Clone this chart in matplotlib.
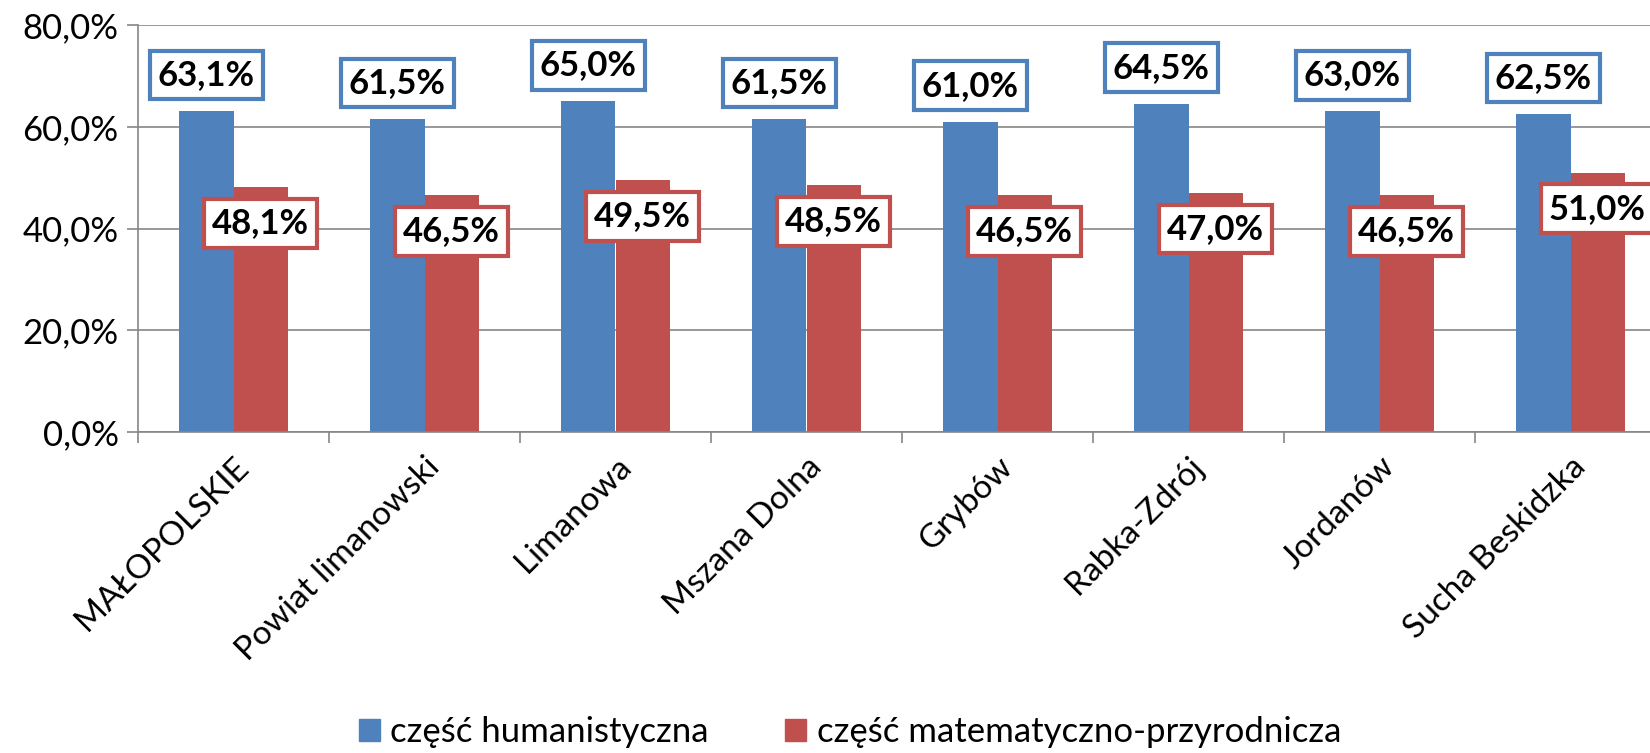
import numpy as np
import matplotlib
matplotlib.use("Agg")
import matplotlib.pyplot as plt
from matplotlib.patches import Patch
from matplotlib.ticker import FixedLocator, FuncFormatter

# Data
categories = ["MAŁOPOLSKIE", "Powiat limanowski", "Limanowa", "Mszana Dolna",
              "Grybów", "Rabka-Zdrój", "Jordanów", "Sucha Beskidzka"]
humanistyczna = [63.1, 61.5, 65.0, 61.5, 61.0, 64.5, 63.0, 62.5]
mat_przyr = [48.1, 46.5, 49.5, 48.5, 46.5, 47.0, 46.5, 51.0]
series_names = ["część humanistyczna", "część matematyczno-przyrodnicza"]

BLUE = "#4F81BD"
RED = "#C0504D"
GRID = "#868686"

plt.rcParams['font.family'] = ['Lato', 'DejaVu Sans']

fig = plt.figure(figsize=(16.5, 7.53), dpi=100)
ax = fig.add_axes([138 / 1650, 1 - 432 / 753, (1666 - 138) / 1650, (432 - 25) / 753])

n = len(categories)
centers = np.arange(n) + 0.5
w = 0.283

ax.bar(centers - w / 2, humanistyczna, w, color=BLUE, zorder=2)
ax.bar(centers + w / 2, mat_przyr, w, color=RED, zorder=2)

fmt = lambda v: f"{v:.1f}%".replace(".", ",")

for x, v in zip(centers - w / 2, humanistyczna):
    ax.annotate(fmt(v), xy=(x, v), xytext=(0, 26), textcoords="offset points",
                ha="center", va="center", fontsize=25, fontweight="bold",
                annotation_clip=False, zorder=5,
                bbox=dict(boxstyle="square,pad=0.24", fc="white", ec=BLUE, lw=3))
for x, v in zip(centers + w / 2, mat_przyr):
    ax.annotate(fmt(v), xy=(x, v), xytext=(0, -26), textcoords="offset points",
                ha="center", va="center", fontsize=25, fontweight="bold",
                annotation_clip=False, zorder=5,
                bbox=dict(boxstyle="square,pad=0.24", fc="white", ec=RED, lw=3))

ax.set_xlim(0, n)
ax.set_ylim(0, 80)
ax.yaxis.set_major_locator(FixedLocator([0, 20, 40, 60, 80]))
ax.yaxis.set_major_formatter(FuncFormatter(lambda v, p: f"{v:.1f}%".replace(".", ",")))
ax.grid(axis="y", color=GRID, lw=1.2, zorder=0)
ax.set_axisbelow(True)

ax.set_xticks(np.arange(n + 1))
ax.set_xticklabels([])
ax.set_xticks(centers, minor=True)
ax.set_xticklabels(categories, minor=True, rotation=45, ha="right",
                   rotation_mode="anchor", fontsize=24)
ax.tick_params(axis="x", which="minor", length=0, pad=14)
ax.tick_params(axis="x", which="major", length=8, color=GRID, width=1.2)
ax.tick_params(axis="y", length=8, color=GRID, width=1.2, labelsize=25, pad=6)

for s in ["top", "right"]:
    ax.spines[s].set_visible(False)
for s in ["left", "bottom"]:
    ax.spines[s].set_color(GRID)
    ax.spines[s].set_linewidth(1.2)

handles = [Patch(color=BLUE), Patch(color=RED)]
fig.legend(handles, series_names, loc="center", bbox_to_anchor=(850 / 1650, 1 - 732 / 753),
           ncol=2, frameon=False, fontsize=25, handlelength=0.6, handleheight=0.6,
           handletextpad=0.3, columnspacing=2.2, borderpad=0)

fig.savefig("out.png", dpi=100)
